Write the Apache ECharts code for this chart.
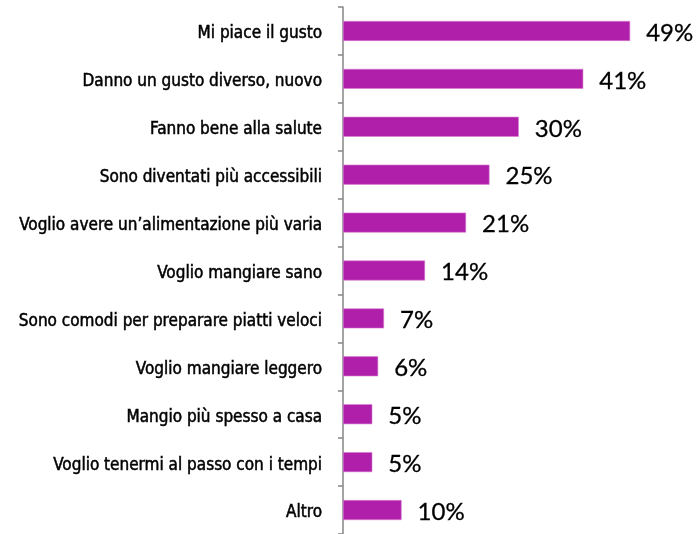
<!DOCTYPE html>
<html>
<head>
<meta charset="utf-8">
<script src="https://cdn.jsdelivr.net/npm/echarts@6/dist/echarts.min.js"></script>
<style>
  html, body { margin: 0; padding: 0; background: #fff; }
  #chart { width: 698px; height: 534px; }
</style>
</head>
<body>
<div id="chart"></div>
<script>
// Motivi di acquisto (percentuale di risposte)
const categories = [
  'Mi piace il gusto',
  'Danno un gusto diverso, nuovo',
  'Fanno bene alla salute',
  'Sono diventati più accessibili',
  'Voglio avere un\u2019alimentazione più varia',
  'Voglio mangiare sano',
  'Sono comodi per preparare piatti veloci',
  'Voglio mangiare leggero',
  'Mangio più spesso a casa',
  'Voglio tenermi al passo con i tempi',
  'Altro'
];
const values = [49, 41, 30, 25, 21, 14, 7, 6, 5, 5, 10];

const labelFont = {
  color: '#000',
  fontFamily: '"DejaVu Sans Condensed", sans-serif',
  fontWeight: 'normal',
  fontSize: 17,
  textBorderColor: '#000',
  textBorderWidth: 0.5
};

const chart = echarts.init(document.getElementById('chart'));
chart.setOption({
  animation: false,
  grid: { left: 343, top: 7, width: 293, height: 530, containLabel: false },
  xAxis: {
    type: 'value', min: 0, max: 50,
    show: false
  },
  yAxis: {
    type: 'category',
    data: categories,
    inverse: true,
    axisLine: { show: true, lineStyle: { color: '#868686', width: 1.5 } },
    axisTick: { show: true, length: 5, lineStyle: { color: '#868686', width: 1.5 } },
    axisLabel: Object.assign({
      margin: 21,
      formatter: v => '{t|' + v + '}',
      rich: { t: Object.assign({ padding: [6, 0, 0, 0] }, labelFont) }
    }, labelFont)
  },
  series: [{
    type: 'bar',
    data: values,
    barWidth: 20,
    itemStyle: { color: '#B01FAA', borderColor: '#D77FD2', borderWidth: 0.6 },
    label: {
      show: true,
      position: 'right',
      distance: 16,
      formatter: '{c}%',
      color: '#000',
      fontFamily: 'Lato, "Open Sans", sans-serif',
      fontSize: 24,
      textBorderColor: '#000',
      textBorderWidth: 0.3,
      offset: [0, 2]
    }
  }]
});
</script>
</body>
</html>
